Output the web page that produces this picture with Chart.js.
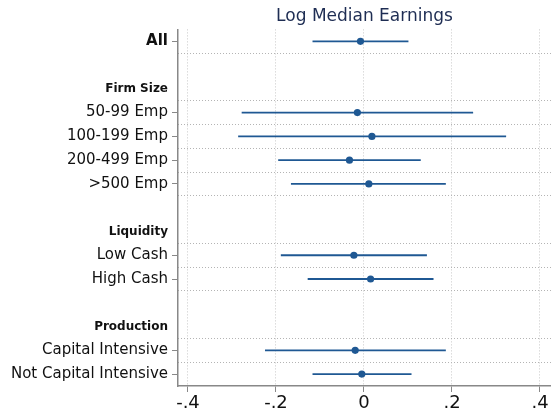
<!DOCTYPE html>
<html>
<head>
<meta charset="utf-8">
<script src="https://cdn.jsdelivr.net/npm/chart.js@4.4.1/dist/chart.umd.min.js"></script>
<style>
  html, body { margin: 0; padding: 0; background: #fff; overflow: hidden; }
  #wrap { width: 551px; height: 414px; }
  canvas { display: block; }
</style>
</head>
<body>
<div id="wrap"><canvas id="chart"></canvas></div>
<script>
// rows from top to bottom; '' = blank spacer row
const rowLabels = ['All', '', 'Firm Size', '50-99 Emp', '100-199 Emp', '200-499 Emp', '>500 Emp',
    '', 'Liquidity', 'Low Cash', 'High Cash', '', 'Production', 'Capital Intensive', 'Not Capital Intensive'];
const headerRows = ['Firm Size', 'Liquidity', 'Production'];

// one entry per data row (in row order)
const dataRows = ['All', '50-99 Emp', '100-199 Emp', '200-499 Emp', '>500 Emp',
    'Low Cash', 'High Cash', 'Capital Intensive', 'Not Capital Intensive'];
const estimates = [-0.008, -0.015, 0.018, -0.033, 0.011, -0.023, 0.015, -0.020, -0.005];
const lowerCI = [-0.117, -0.278, -0.286, -0.195, -0.166, -0.189, -0.128, -0.225, -0.117];
const upperCI = [0.101, 0.248, 0.323, 0.129, 0.186, 0.143, 0.158, 0.186, 0.108];

const xTicks = [-0.4, -0.2, 0, 0.2, 0.4];
const xTickLabels = ['-.4', '-.2', '0', '.2', '.4'];

const navy = '#1f5893';
const font = 'DejaVu Sans';

const rowIndex = (name) => rowLabels.indexOf(name);

// dotted separators below every non-blank row (the last one is the axis)
const sepLines = [];
rowLabels.forEach((l, i) => {
    if (l !== '' && i < rowLabels.length - 1) sepLines.push(i + 0.5);
});

const datasets = dataRows.map((name, i) => ({
    type: 'line',
    data: [{ x: lowerCI[i], y: rowIndex(name) }, { x: upperCI[i], y: rowIndex(name) }],
    borderColor: navy,
    borderWidth: 1.8,
    pointRadius: 0,
    fill: false,
}));
datasets.push({
    type: 'scatter',
    data: dataRows.map((name, i) => ({ x: estimates[i], y: rowIndex(name) })),
    backgroundColor: navy,
    borderColor: navy,
    pointRadius: 3.6,
    borderWidth: 0,
});

new Chart(document.getElementById('chart'), {
    type: 'scatter',
    data: { datasets },
    options: {
        responsive: true,
        maintainAspectRatio: false,
        animation: false,
        layout: { padding: 0, autoPadding: false },
        plugins: {
            legend: { display: false },
            tooltip: { enabled: false },
            title: {
                display: true,
                text: 'Log Median Earnings',
                fullSize: false,
                color: '#1e2d53',
                font: { family: font, size: 17, weight: 'normal' },
                padding: { top: 6, bottom: 3 },
            },
        },
        scales: {
            x: {
                type: 'linear',
                min: -0.4227,
                max: 0.425,
                afterBuildTicks: (s) => { s.ticks = xTicks.map(v => ({ value: v })); },
                afterFit: (s) => { s.height = 28; s.paddingLeft = 0; s.paddingRight = 0; },
                ticks: {
                    callback: (v) => xTickLabels[xTicks.indexOf(v)],
                    color: '#111',
                    font: { family: font, size: 18 },
                    padding: 1,
                    maxRotation: 0,
                    autoSkip: false,
                },
                grid: {
                    color: '#c8c8c8',
                    lineWidth: 1,
                    tickColor: '#888',
                    tickLength: 6,
                },
                border: { color: '#888', width: 1.5, dash: [1, 2] },
            },
            y: {
                type: 'linear',
                reverse: true,
                min: -0.5,
                max: 14.5,
                afterBuildTicks: (s) => {
                    s.ticks = rowLabels.map((l, i) => ({ value: i })).filter(t => rowLabels[t.value] !== '');
                },
                afterFit: (s) => { s.width = 178; },
                ticks: {
                    autoSkip: false,
                    padding: 4,
                    color: '#111',
                    callback: (v) => rowLabels[v],
                    font: (ctx) => {
                        const l = rowLabels[ctx.tick && ctx.tick.value];
                        if (l === 'All') return { family: font, size: 15, weight: 'bold' };
                        if (headerRows.includes(l)) return { family: font, size: 12, weight: 'bold' };
                        return { family: font, size: 15 };
                    },
                },
                grid: {
                    drawOnChartArea: false,
                    tickLength: 6,
                    tickColor: (ctx) => {
                        const l = rowLabels[ctx.tick && ctx.tick.value];
                        return headerRows.includes(l) ? 'rgba(0,0,0,0)' : '#888';
                    },
                },
                border: { color: '#888', width: 1.5 },
            },
            ySep: {
                type: 'linear',
                position: 'left',
                reverse: true,
                min: -0.5,
                max: 14.5,
                afterBuildTicks: (s) => { s.ticks = sepLines.map(v => ({ value: v })); },
                afterFit: (s) => { s.width = 0; },
                ticks: { display: false },
                grid: { color: '#b4b4b4', lineWidth: 1, drawTicks: false },
                border: { display: false, dash: [1, 2] },
            },
        },
    },
});
</script>
</body>
</html>
